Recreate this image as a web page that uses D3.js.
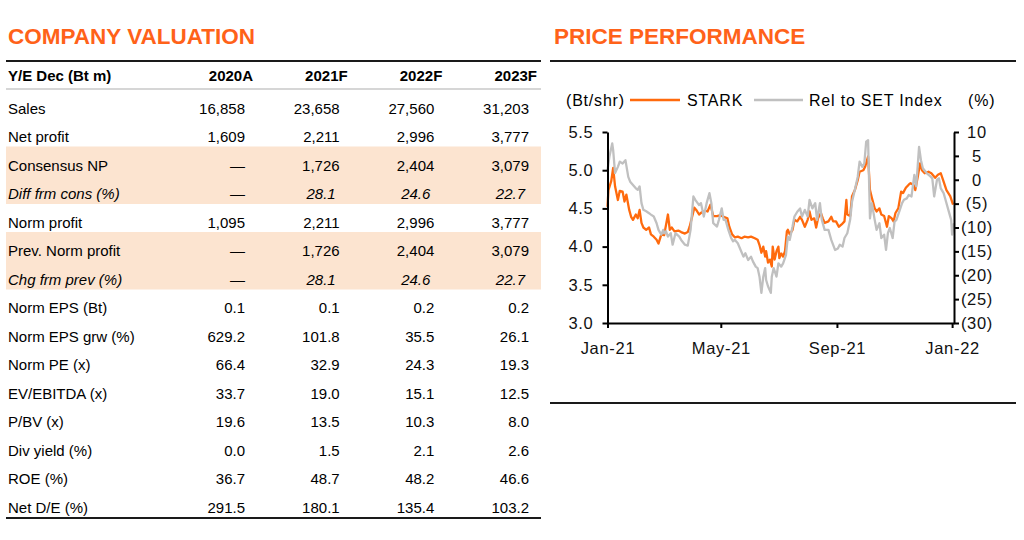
<!DOCTYPE html>
<html>
<head>
<meta charset="utf-8">
<script src="https://cdn.jsdelivr.net/npm/d3@7"></script>
<style>
  body { margin: 0; background: #fff; }
  svg { display: block; font-family: "Liberation Sans", Arial, sans-serif; }
</style>
</head>
<body>
<div class="page"></div>
<script>
/* table data */
const years = ["2020A", "2021F", "2022F", "2023F"];
const rowLabels = [
    "Sales", "Net profit", "Consensus NP", "Diff frm cons (%)", "Norm profit",
    "Prev. Norm profit", "Chg frm prev (%)", "Norm EPS (Bt)", "Norm EPS grw (%)",
    "Norm PE (x)", "EV/EBITDA (x)", "P/BV (x)", "Div yield (%)", "ROE (%)", "Net D/E (%)"
];
const rowValues = [
    ["16,858", "23,658", "27,560", "31,203"],
    ["1,609", "2,211", "2,996", "3,777"],
    ["—", "1,726", "2,404", "3,079"],
    ["—", "28.1", "24.6", "22.7"],
    ["1,095", "2,211", "2,996", "3,777"],
    ["—", "1,726", "2,404", "3,079"],
    ["—", "28.1", "24.6", "22.7"],
    ["0.1", "0.1", "0.2", "0.2"],
    ["629.2", "101.8", "35.5", "26.1"],
    ["66.4", "32.9", "24.3", "19.3"],
    ["33.7", "19.0", "15.1", "12.5"],
    ["19.6", "13.5", "10.3", "8.0"],
    ["0.0", "1.5", "2.1", "2.6"],
    ["36.7", "48.7", "48.2", "46.6"],
    ["291.5", "180.1", "135.4", "103.2"]
];
const shadedRows = ["Consensus NP", "Diff frm cons (%)", "Prev. Norm profit", "Chg frm prev (%)"];
const italicRows = ["Diff frm cons (%)", "Chg frm prev (%)"];

/* chart data: STARK price (Bt/shr) and relative to SET index (%) */
const starkPrice = [
    ["2021-01-01", 4.52], ["2021-01-02", 4.74], ["2021-01-05", 4.86], ["2021-01-07", 5.03],
    ["2021-01-09", 4.79], ["2021-01-12", 4.61], ["2021-01-14", 4.73], ["2021-01-17", 4.72],
    ["2021-01-19", 4.59], ["2021-01-21", 4.68], ["2021-01-24", 4.48], ["2021-01-26", 4.39],
    ["2021-01-28", 4.35], ["2021-01-31", 4.42], ["2021-02-02", 4.37], ["2021-02-04", 4.48],
    ["2021-02-06", 4.31], ["2021-02-08", 4.25], ["2021-02-11", 4.22], ["2021-02-14", 4.25],
    ["2021-02-16", 4.16], ["2021-02-19", 4.13], ["2021-02-22", 4.09], ["2021-02-24", 4.04],
    ["2021-02-27", 4.16], ["2021-03-02", 4.15], ["2021-03-06", 4.42], ["2021-03-08", 4.22],
    ["2021-03-10", 4.25], ["2021-03-13", 4.20], ["2021-03-17", 4.21], ["2021-03-20", 4.19],
    ["2021-03-24", 4.17], ["2021-03-27", 4.19], ["2021-03-29", 4.26], ["2021-04-03", 4.51],
    ["2021-04-05", 4.48], ["2021-04-08", 4.42], ["2021-04-11", 4.45], ["2021-04-15", 4.47],
    ["2021-04-17", 4.46], ["2021-04-20", 4.55], ["2021-04-23", 4.40], ["2021-04-27", 4.40],
    ["2021-04-30", 4.41], ["2021-05-04", 4.39], ["2021-05-08", 4.37], ["2021-05-10", 4.26],
    ["2021-05-13", 4.16], ["2021-05-16", 4.12], ["2021-05-19", 4.13], ["2021-05-23", 4.11],
    ["2021-05-26", 4.13], ["2021-05-30", 4.12], ["2021-06-02", 4.13], ["2021-06-06", 4.11],
    ["2021-06-09", 4.09], ["2021-06-11", 4.02], ["2021-06-13", 3.92], ["2021-06-15", 4.00],
    ["2021-06-17", 3.87], ["2021-06-18", 3.94], ["2021-06-20", 3.79], ["2021-06-22", 3.83],
    ["2021-06-24", 3.74], ["2021-06-25", 4.00], ["2021-06-27", 3.83], ["2021-06-29", 3.94],
    ["2021-07-01", 4.00], ["2021-07-02", 3.85], ["2021-07-04", 3.91], ["2021-07-06", 3.87],
    ["2021-07-08", 3.94], ["2021-07-10", 4.20], ["2021-07-11", 4.22], ["2021-07-13", 4.16],
    ["2021-07-16", 4.22], ["2021-07-18", 4.35], ["2021-07-21", 4.33], ["2021-07-24", 4.39],
    ["2021-07-26", 4.35], ["2021-07-29", 4.26], ["2021-08-01", 4.35], ["2021-08-03", 4.46],
    ["2021-08-05", 4.35], ["2021-08-08", 4.37], ["2021-08-10", 4.25], ["2021-08-12", 4.37],
    ["2021-08-15", 4.44], ["2021-08-17", 4.37], ["2021-08-19", 4.31], ["2021-08-23", 4.33],
    ["2021-08-26", 4.39], ["2021-08-28", 4.33], ["2021-08-31", 4.33], ["2021-09-03", 4.26],
    ["2021-09-06", 4.29], ["2021-09-09", 4.33], ["2021-09-11", 4.61], ["2021-09-12", 4.42],
    ["2021-09-15", 4.40], ["2021-09-17", 4.66], ["2021-09-20", 4.74], ["2021-09-23", 4.87],
    ["2021-09-25", 4.98], ["2021-09-29", 5.00], ["2021-10-01", 5.05], ["2021-10-04", 5.18],
    ["2021-10-06", 4.74], ["2021-10-08", 4.64], ["2021-10-11", 4.50], ["2021-10-13", 4.46],
    ["2021-10-16", 4.50], ["2021-10-18", 4.42], ["2021-10-21", 4.40], ["2021-10-24", 4.26],
    ["2021-10-26", 4.40], ["2021-10-29", 4.37], ["2021-10-31", 4.33], ["2021-11-02", 4.44],
    ["2021-11-05", 4.50], ["2021-11-08", 4.72], ["2021-11-10", 4.70], ["2021-11-13", 4.77],
    ["2021-11-16", 4.81], ["2021-11-18", 4.83], ["2021-11-21", 4.81], ["2021-11-23", 4.74],
    ["2021-11-26", 4.94], ["2021-11-28", 5.09], ["2021-11-30", 5.00], ["2021-12-03", 4.96],
    ["2021-12-07", 4.98], ["2021-12-10", 4.96], ["2021-12-14", 4.90], ["2021-12-17", 4.94],
    ["2021-12-20", 4.96], ["2021-12-23", 4.85], ["2021-12-26", 4.74], ["2021-12-30", 4.66],
    ["2022-01-02", 4.55]
];
const relToSet = [
    ["2021-01-01", 2.0], ["2021-01-03", 4.8], ["2021-01-06", 7.6], ["2021-01-07", 6.2],
    ["2021-01-09", 1.4], ["2021-01-12", 2.7], ["2021-01-14", 3.8], ["2021-01-17", 3.4],
    ["2021-01-20", 4.1], ["2021-01-23", 0.6], ["2021-01-25", -0.4], ["2021-01-28", -1.1],
    ["2021-01-31", -1.8], ["2021-02-02", -2.1], ["2021-02-04", -1.4], ["2021-02-06", -4.9],
    ["2021-02-08", -6.3], ["2021-02-11", -6.6], ["2021-02-14", -7.0], ["2021-02-16", -7.3],
    ["2021-02-19", -7.7], ["2021-02-22", -9.1], ["2021-02-24", -10.5], ["2021-02-27", -11.5],
    ["2021-03-01", -10.5], ["2021-03-02", -11.2], ["2021-03-04", -10.8], ["2021-03-06", -11.9],
    ["2021-03-09", -11.2], ["2021-03-11", -13.6], ["2021-03-14", -11.2], ["2021-03-18", -11.9],
    ["2021-03-20", -12.6], ["2021-03-24", -13.6], ["2021-03-27", -13.8], ["2021-03-30", -10.5],
    ["2021-04-02", -3.5], ["2021-04-04", -4.2], ["2021-04-08", -5.3], ["2021-04-10", -4.9],
    ["2021-04-13", -7.7], ["2021-04-16", -4.9], ["2021-04-19", -2.8], ["2021-04-21", -4.9],
    ["2021-04-23", -9.1], ["2021-04-27", -9.8], ["2021-04-29", -8.4], ["2021-05-02", -6.0],
    ["2021-05-04", -8.4], ["2021-05-06", -8.4], ["2021-05-09", -10.5], ["2021-05-12", -12.2],
    ["2021-05-14", -12.9], ["2021-05-16", -12.6], ["2021-05-19", -13.3], ["2021-05-22", -14.7],
    ["2021-05-25", -16.1], ["2021-05-27", -15.4], ["2021-05-30", -16.8], ["2021-06-02", -16.1],
    ["2021-06-04", -17.1], ["2021-06-07", -18.2], ["2021-06-09", -18.5], ["2021-06-11", -20.3],
    ["2021-06-13", -23.7], ["2021-06-15", -20.3], ["2021-06-17", -18.5], ["2021-06-18", -21.0],
    ["2021-06-20", -22.3], ["2021-06-23", -23.7], ["2021-06-24", -20.3], ["2021-06-26", -18.5],
    ["2021-06-29", -20.3], ["2021-07-01", -17.5], ["2021-07-04", -18.2], ["2021-07-06", -17.5],
    ["2021-07-09", -15.8], ["2021-07-11", -11.9], ["2021-07-13", -12.6], ["2021-07-16", -9.8],
    ["2021-07-18", -7.7], ["2021-07-21", -6.7], ["2021-07-24", -6.0], ["2021-07-26", -7.7],
    ["2021-07-29", -6.3], ["2021-08-01", -7.7], ["2021-08-03", -4.2], ["2021-08-06", -6.0],
    ["2021-08-09", -4.9], ["2021-08-11", -8.4], ["2021-08-14", -4.9], ["2021-08-16", -8.4],
    ["2021-08-19", -10.5], ["2021-08-23", -10.5], ["2021-08-26", -12.6], ["2021-08-30", -14.7],
    ["2021-09-02", -14.4], ["2021-09-04", -13.6], ["2021-09-07", -14.0], ["2021-09-09", -12.2],
    ["2021-09-12", -11.2], ["2021-09-15", -8.4], ["2021-09-17", -4.6], ["2021-09-20", -2.1],
    ["2021-09-23", 0.6], ["2021-09-25", 3.8], ["2021-09-28", 2.7], ["2021-09-30", 3.4],
    ["2021-10-02", 8.0], ["2021-10-04", 8.3], ["2021-10-06", -8.1], ["2021-10-08", -4.9],
    ["2021-10-11", -8.4], ["2021-10-13", -10.5], ["2021-10-16", -9.1], ["2021-10-18", -12.2],
    ["2021-10-21", -11.5], ["2021-10-23", -14.7], ["2021-10-25", -11.2], ["2021-10-27", -10.1],
    ["2021-10-30", -12.2], ["2021-11-01", -8.8], ["2021-11-03", -8.4], ["2021-11-06", -6.7],
    ["2021-11-09", -4.9], ["2021-11-11", -4.2], ["2021-11-14", -3.9], ["2021-11-16", -3.2],
    ["2021-11-19", -3.5], ["2021-11-22", 1.0], ["2021-11-24", -1.4], ["2021-11-27", 6.9],
    ["2021-11-29", 4.1], ["2021-12-01", 2.4], ["2021-12-05", 1.4], ["2021-12-09", 0.7],
    ["2021-12-11", 0.3], ["2021-12-13", -3.5], ["2021-12-16", 0.0], ["2021-12-18", 0.3],
    ["2021-12-20", -1.8], ["2021-12-23", -2.8], ["2021-12-25", -4.2], ["2021-12-28", -6.3],
    ["2021-12-31", -8.4], ["2022-01-01", -11.5], ["2022-01-03", -9.1]
];
const priceTicks = [3.0, 3.5, 4.0, 4.5, 5.0, 5.5];
const relTicks = [10, 5, 0, -5, -10, -15, -20, -25, -30];
const dateTicks = ["2021-01-01", "2021-05-01", "2021-09-01", "2022-01-01"];

const orange = "#ff6a0d";
const grey = "#c0c0c0";
const parseDate = d3.timeParse("%Y-%m-%d");

const svg = d3.select(".page").append("svg")
    .attr("width", 1024)
    .attr("height", 540);

/**
 * Left panel: company valuation table
 */
function drawTable() {
    const g = svg.append("g");
    const left = 6, right = 541;

    g.append("text")
        .attr("x", 8).attr("y", 44)
        .attr("fill", "#ff6219")
        .style("font-size", "22.5px").style("font-weight", "bold")
        .text("COMPANY VALUATION");

    const rowY = d3.scaleBand().domain(rowLabels).range([89.5, 89.5 + 15 * 28.5]);
    const colX = d3.scalePoint().domain(years).range([245, 529]);

    // shaded rows
    g.selectAll("rect.shade")
        .data(shadedRows)
        .enter().append("rect")
        .attr("class", "shade")
        .attr("x", left).attr("width", right - left)
        .attr("y", d => rowY(d)).attr("height", rowY.bandwidth() + 0.5)
        .attr("fill", "#fce4d0");

    // rules
    g.append("line").attr("x1", left).attr("x2", right).attr("y1", 61).attr("y2", 61)
        .attr("stroke", "#1a1a1a").attr("stroke-width", 2);
    g.append("line").attr("x1", left).attr("x2", right).attr("y1", 89).attr("y2", 89)
        .attr("stroke", "#d6d6d6").attr("stroke-width", 2);
    g.append("line").attr("x1", left).attr("x2", right).attr("y1", 518).attr("y2", 518)
        .attr("stroke", "#1a1a1a").attr("stroke-width", 2);

    // header row
    g.append("text").attr("x", 8).attr("y", 81)
        .style("font-size", "15px").style("font-weight", "bold")
        .text("Y/E Dec (Bt m)");
    g.selectAll("text.year")
        .data(years)
        .enter().append("text")
        .attr("class", "year")
        .attr("x", d => colX(d) + 8).attr("y", 81)
        .attr("text-anchor", "end")
        .style("font-size", "15px").style("font-weight", "bold")
        .text(d => d);

    // body rows
    const rows = g.selectAll("g.row")
        .data(rowLabels)
        .enter().append("g")
        .attr("class", "row")
        .attr("transform", d => `translate(0,${rowY(d) + 24})`);

    rows.append("text")
        .attr("x", 8)
        .style("font-size", "15px")
        .style("font-style", d => italicRows.includes(d) ? "italic" : "normal")
        .text(d => d);

    rows.each(function(label, i) {
        const italic = italicRows.includes(label);
        d3.select(this).selectAll("text.val")
            .data(rowValues[i])
            .enter().append("text")
            .attr("class", "val")
            .attr("x", (v, j) => colX(years[j]) - (italic && v !== "—" ? 4 : 0))
            .attr("text-anchor", "end")
            .style("font-size", "15px")
            .style("font-style", v => italic && v !== "—" ? "italic" : "normal")
            .text(v => v);
    });
}

/**
 * Right panel: price performance chart
 */
function drawChart() {
    const g = svg.append("g");
    const x0 = 607.5, x1 = 954, yTop = 132, yBot = 323;

    g.append("text")
        .attr("x", 554).attr("y", 44)
        .attr("fill", "#ff6219")
        .style("font-size", "22.5px").style("font-weight", "bold")
        .text("PRICE PERFORMANCE");
    g.append("line").attr("x1", 550).attr("x2", 1016).attr("y1", 61).attr("y2", 61)
        .attr("stroke", "#1a1a1a").attr("stroke-width", 2);
    g.append("line").attr("x1", 550).attr("x2", 1016).attr("y1", 403).attr("y2", 403)
        .attr("stroke", "#1a1a1a").attr("stroke-width", 2);

    const x = d3.scaleTime()
        .domain([parseDate("2021-01-01"), parseDate("2022-01-03")])
        .range([x0, x1]);
    const yPrice = d3.scaleLinear().domain([3, 5.5]).range([yBot, yTop]);
    const yRel = d3.scaleLinear().domain([-30, 10]).range([yBot, yTop]);

    const linePrice = d3.line()
        .x(d => x(parseDate(d[0])))
        .y(d => yPrice(d[1]));
    const lineRel = d3.line()
        .x(d => x(parseDate(d[0])))
        .y(d => yRel(d[1]));

    g.append("path").datum(starkPrice)
        .attr("d", linePrice)
        .attr("fill", "none").attr("stroke", orange)
        .attr("stroke-width", 2.3).attr("stroke-linejoin", "round");
    g.append("path").datum(relToSet)
        .attr("d", lineRel)
        .attr("fill", "none").attr("stroke", grey)
        .attr("stroke-width", 2.3).attr("stroke-linejoin", "round");

    // axes
    const axisLeft = d3.axisLeft(yPrice)
        .tickValues(priceTicks).tickFormat(d3.format(".1f"))
        .tickSize(5).tickSizeOuter(0).tickPadding(9);
    const axisRight = d3.axisRight(yRel)
        .tickValues(relTicks).tickFormat(v => v < 0 ? `(${-v})` : `${v}`)
        .tickSize(5).tickSizeOuter(0);
    const axisBottom = d3.axisBottom(x)
        .tickValues(dateTicks.map(parseDate)).tickFormat(d3.timeFormat("%b-%y"))
        .tickSize(5).tickSizeOuter(0).tickPadding(14);

    const gl = g.append("g").attr("transform", `translate(${x0},0)`).call(axisLeft);
    const gr = g.append("g").attr("transform", `translate(${x1},0)`).call(axisRight);
    const gb = g.append("g").attr("transform", `translate(0,${yBot})`).call(axisBottom);

    [gl, gr, gb].forEach(a => {
        a.selectAll("path.domain").attr("stroke", "#000").attr("stroke-width", 2);
        a.selectAll(".tick line").attr("stroke", "#000").attr("stroke-width", 2);
        a.selectAll(".tick text")
            .attr("fill", "#111")
            .style("font-family", "\"Liberation Sans\", Arial, sans-serif")
            .style("font-size", "16.5px")
            .style("letter-spacing", "0.7px");
    });
    gr.selectAll(".tick text").attr("text-anchor", "middle").attr("x", 23);

    // legend
    const lg = g.append("g").attr("transform", "translate(0,100)")
        .style("font-size", "16px").style("letter-spacing", "0.8px");
    lg.append("text").attr("x", 566).attr("dy", "0.36em").text("(Bt/shr)");
    lg.append("line").attr("x1", 630).attr("x2", 680)
        .attr("stroke", orange).attr("stroke-width", 2.5);
    lg.append("text").attr("x", 687).attr("dy", "0.36em").text("STARK");
    lg.append("line").attr("x1", 754).attr("x2", 803)
        .attr("stroke", grey).attr("stroke-width", 2.5);
    lg.append("text").attr("x", 809).attr("dy", "0.36em").text("Rel to SET Index");
    lg.append("text").attr("x", 968).attr("dy", "0.36em").text("(%)");
}

drawTable();
drawChart();
</script>
</body>
</html>
